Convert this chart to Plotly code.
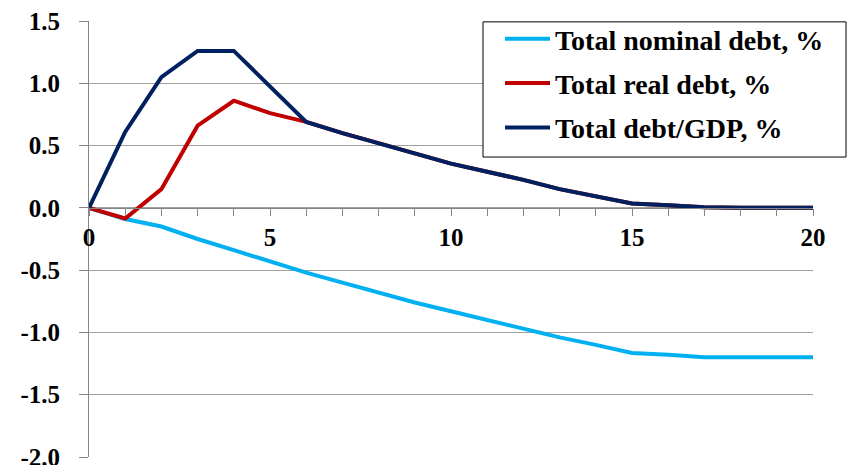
import plotly.graph_objects as go

x_vals = list(range(0, 21))
nominal_debt = [0.0, -0.09, -0.15, -0.25, -0.34, -0.43, -0.52, -0.60, -0.68, -0.76, -0.83,
                -0.90, -0.97, -1.04, -1.10, -1.165, -1.18, -1.20, -1.20, -1.20, -1.20]
real_debt = [0.0, -0.085, 0.15, 0.66, 0.86, 0.76, 0.69, 0.60, 0.52, 0.44, 0.355,
             0.29, 0.225, 0.15, 0.09, 0.035, 0.02, 0.005, 0.0, 0.0, 0.0]
debt_gdp = [0.0, 0.61, 1.05, 1.26, 1.26, 0.97, 0.69, 0.60, 0.52, 0.44, 0.355,
            0.29, 0.225, 0.15, 0.09, 0.035, 0.02, 0.005, 0.0, 0.0, 0.0]
series_names = ["Total nominal debt, %", "Total real debt, %", "Total debt/GDP, %"]
y_ticks = [1.5, 1.0, 0.5, 0.0, -0.5, -1.0, -1.5, -2.0]
y_tick_labels = ["1.5", "1.0", "0.5", "0.0", "-0.5", "-1.0", "-1.5", "-2.0"]

colors = ["#00B0F0", "#C00000", "#002060"]
font_family = "Liberation Serif"

fig = go.Figure()
for i, (name, vals, col) in enumerate(zip(series_names, [nominal_debt, real_debt, debt_gdp], colors)):
    fig.add_trace(go.Scatter(x=x_vals, y=vals, mode="lines", name=name, legendgroup=f"g{i}",
                             line=dict(color=col, width=4)))

zero_frac = (0 - (-2.0)) / (1.5 - (-2.0))

# legend frame (white box with black border), drawn above the data like the original legend
fig.add_shape(type="rect", xref="paper", yref="paper", x0=0.5442, x1=1.0456, y0=0.688, y1=0.998,
              line=dict(color="#000000", width=1), fillcolor="white", layer="above")

fig.update_layout(
    width=847, height=465,
    margin=dict(l=89, r=34, t=21, b=8, autoexpand=False),
    plot_bgcolor="white", paper_bgcolor="white",
    showlegend=True,
    legend=dict(x=0.5677, y=1.016, xanchor="left", yanchor="top",
                borderwidth=0, bgcolor="rgba(0,0,0,0)",
                font=dict(family=font_family, size=28, color="black", weight="bold"),
                tracegroupgap=5, itemwidth=45),
    xaxis=dict(range=[0, 20], anchor="free", position=zero_frac, automargin=False,
               tickvals=[0, 5, 10, 15, 20], ticks="outside", ticklen=7, tickcolor="#868686",
               minor=dict(dtick=1, ticks="outside", ticklen=7, tickcolor="#868686", showgrid=False),
               showgrid=False, zeroline=False, showline=True, linecolor="#868686", linewidth=1,
               tickfont=dict(family=font_family, size=25, color="black", weight="bold")),
    yaxis=dict(range=[-2.0, 1.5], tickvals=y_ticks, ticktext=y_tick_labels, automargin=False,
               ticks="outside", ticklen=9, tickcolor="#868686", ticklabelstandoff=14,
               ticklabeloverflow="allow",
               showgrid=True, gridcolor="#A0A0A0", gridwidth=1, zeroline=False,
               showline=True, linecolor="#868686", linewidth=1,
               tickfont=dict(family=font_family, size=25, color="black", weight="bold")),
)

fig.write_html("out.html", post_script="document.body.style.margin='0';",
               config={"displayModeBar": False})
